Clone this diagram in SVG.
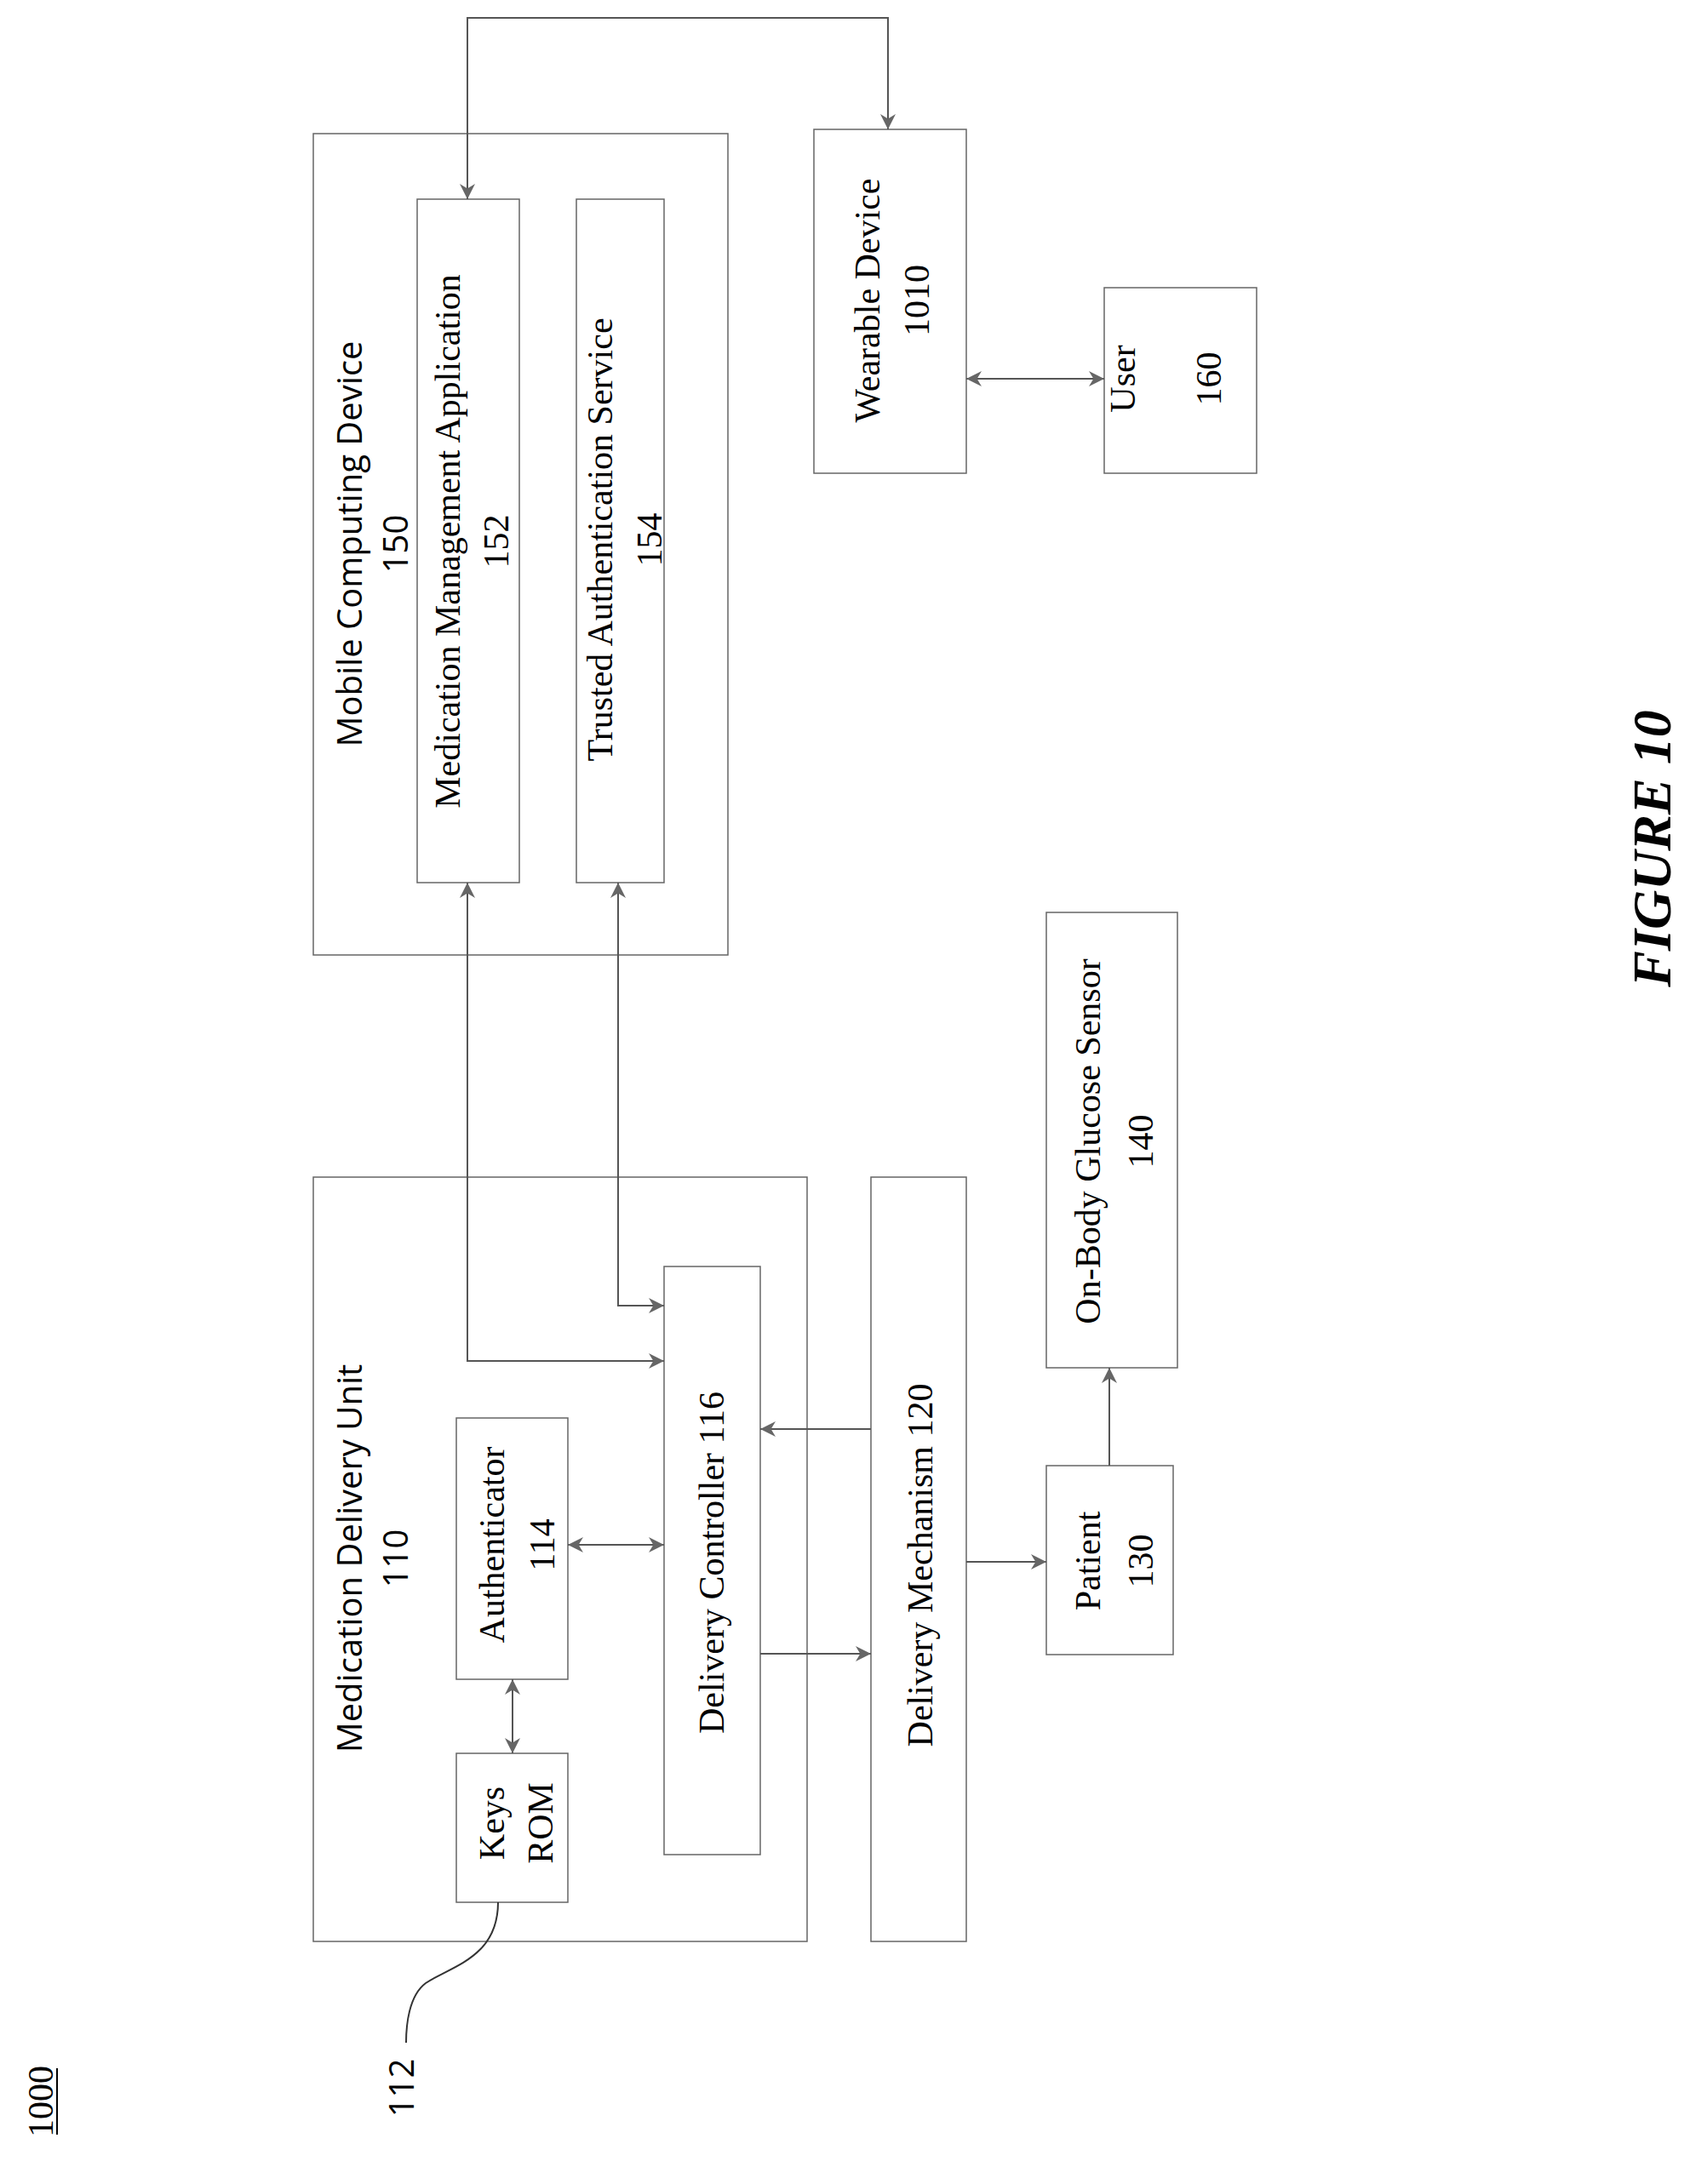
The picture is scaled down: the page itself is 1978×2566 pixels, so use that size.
<svg xmlns="http://www.w3.org/2000/svg" width="1978" height="2566" viewBox="0 0 1978 2566">
<style>
.b{fill:none;stroke:#666;stroke-width:1.5}
.c{fill:none;stroke:#555;stroke-width:2}
.s{font-family:"Open Sans","Liberation Sans",sans-serif;font-size:40px;fill:#000;text-anchor:middle}
.t{font-family:"Liberation Serif",serif;font-size:42px;fill:#000;text-anchor:middle}
</style>
<defs>
<marker id="a" viewBox="0 0 10 10" refX="10" refY="5" markerWidth="10" markerHeight="10" markerUnits="userSpaceOnUse" orient="auto-start-reverse"><path d="M0,0L10,5L0,10L3,5z" fill="#666"/></marker>
<marker id="A" viewBox="0 0 10 10" refX="10" refY="5" markerWidth="18" markerHeight="18" markerUnits="userSpaceOnUse" orient="auto-start-reverse"><path d="M0,0L10,5L0,10L3,5z" fill="#666"/></marker>
</defs>
<g id="mcd"><rect class="b" x="368" y="157" width="487" height="965"/>
<text class="s" transform="translate(425,639) rotate(-90)">Mobile Computing Device</text>
<text class="s" transform="translate(479,639) rotate(-90)">150</text></g>
<g id="mma"><rect class="b" x="490" y="234" width="120" height="803"/>
<text class="t" transform="translate(540,636) rotate(-90)">Medication Management Application</text>
<text class="t" transform="translate(597,636) rotate(-90)">152</text></g>
<g id="tas"><rect class="b" x="677" y="234" width="103" height="803"/>
<text class="t" transform="translate(719,634) rotate(-90)">Trusted Authentication Service</text>
<text class="t" transform="translate(777,634) rotate(-90)">154</text></g>
<g id="wd"><rect class="b" x="956" y="152" width="179" height="404"/>
<text class="t" transform="translate(1033,353) rotate(-90)">Wearable Device</text>
<text class="t" transform="translate(1091,353) rotate(-90)">1010</text></g>
<g id="user"><rect class="b" x="1297" y="338" width="179" height="218"/>
<text class="t" transform="translate(1333,445) rotate(-90)">User</text>
<text class="t" transform="translate(1434,445) rotate(-90)">160</text></g>
<g id="mdu"><rect class="b" x="368" y="1383" width="580" height="898"/>
<text class="s" transform="translate(425,1831) rotate(-90)">Medication Delivery Unit</text>
<text class="s" transform="translate(479,1831) rotate(-90)">110</text></g>
<g id="auth"><rect class="b" x="536" y="1666" width="131" height="307"/>
<text class="t" transform="translate(592,1815) rotate(-90)">Authenticator</text>
<text class="t" transform="translate(651,1815) rotate(-90)">114</text></g>
<g id="keys"><rect class="b" x="536" y="2060" width="131" height="175"/>
<text class="t" transform="translate(592,2142) rotate(-90)">Keys</text>
<text class="t" transform="translate(649,2142) rotate(-90)">ROM</text></g>
<g id="dc"><rect class="b" x="780" y="1488" width="113" height="691"/>
<text class="t" transform="translate(850,1836) rotate(-90)">Delivery Controller 116</text></g>
<g id="dm"><rect class="b" x="1023" y="1383" width="112" height="898"/>
<text class="t" transform="translate(1095,1839) rotate(-90)">Delivery Mechanism 120</text></g>
<g id="patient"><rect class="b" x="1229" y="1722" width="149" height="222"/>
<text class="t" transform="translate(1292,1834) rotate(-90)">Patient</text>
<text class="t" transform="translate(1354,1834) rotate(-90)">130</text></g>
<g id="ogs"><rect class="b" x="1229" y="1072" width="154" height="535"/>
<text class="t" transform="translate(1292,1341) rotate(-90)">On-Body Glucose Sensor</text>
<text class="t" transform="translate(1354,1341) rotate(-90)">140</text></g>
<g id="labels">
<text class="s" transform="translate(486,2453) rotate(-90)">112</text>
<text class="t" transform="translate(62,2469) rotate(-90)">1000</text>
<line x1="67" y1="2430" x2="67" y2="2508" stroke="#000" stroke-width="2"/>
<text transform="translate(1962,997) rotate(-90)" font-family="Liberation Serif,serif" font-size="64" font-weight="bold" font-style="italic" text-anchor="middle">FIGURE 10</text>
</g>
<g id="connectors">
<path class="c" d="M549,234V21H1043V152" stroke-width="3" marker-start="url(#A)" marker-end="url(#A)"/>
<path class="c" d="M1135,445H1297" marker-start="url(#A)" marker-end="url(#A)"/>
<path class="c" d="M549,1037V1599H780" stroke-width="3" marker-start="url(#A)" marker-end="url(#A)"/>
<path class="c" d="M726,1037V1534H780" stroke-width="3" marker-start="url(#A)" marker-end="url(#A)"/>
<path class="c" d="M1023,1679H893" marker-end="url(#A)"/>
<path class="c" d="M667,1815H780" marker-start="url(#A)" marker-end="url(#A)"/>
<path class="c" d="M602,1973V2060" marker-start="url(#A)" marker-end="url(#A)"/>
<path class="c" d="M893,1943H1023" marker-end="url(#A)"/>
<path class="c" d="M1135,1835H1229" marker-end="url(#A)"/>
<path class="c" d="M1303,1722V1607" stroke-width="1.5" marker-end="url(#A)"/>
<path d="M585,2235C585,2300 530,2310 500,2330C480,2345 477,2380 477,2400" fill="none" stroke="#333" stroke-width="2"/>
</g>
</svg>
